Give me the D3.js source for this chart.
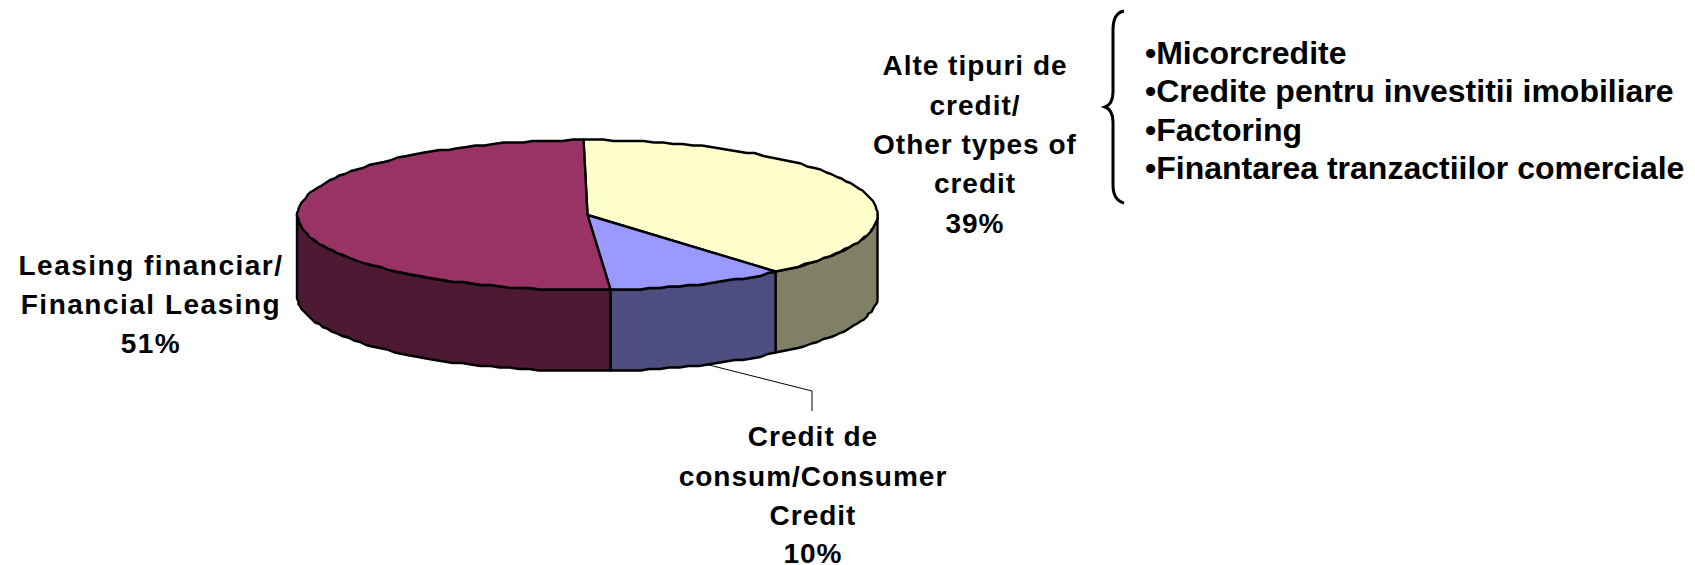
<!DOCTYPE html>
<html>
<head>
<meta charset="utf-8">
<script src="https://cdnjs.cloudflare.com/ajax/libs/d3/7.8.5/d3.min.js"></script>
<style>
    html, body { margin: 0; padding: 0; background: #fff; }
    svg { display: block; }
    text { font-family: "Liberation Sans", Arial, sans-serif; font-weight: bold; fill: #000; }
</style>
</head>
<body>
<div id="chart"></div>
<script>
// Slices, clockwise from the top of the pie
var categories = ["Alte tipuri de credit", "Credit de consum", "Leasing financiar"];
var values = [39, 10, 51];
var topColors = ["#ffffcc", "#9999ff", "#993366"];
var sideColors = ["#808066", "#4d4d80", "#4d1933"];

var labelOther = ["Alte tipuri de", "credit/", "Other types of", "credit", "39%"];
var labelConsumer = ["Credit de", "consum/Consumer", "Credit", "10%"];
var labelLeasing = ["Leasing financiar/", "Financial Leasing", "51%"];
var otherTypes = ["•Micorcredite", "•Credite pentru investitii imobiliare", "•Factoring", "•Finantarea tranzactiilor comerciale"];

var width = 1695, height = 565;
var cx = 587.5, cy = 215, rx = 290, ry = 75, depth = 81;

var svg = d3.select("#chart").append("svg")
    .attr("width", width)
    .attr("height", height);

var pie = d3.pie()
    .sort(null)
    .startAngle(-0.015)
    .endAngle(2 * Math.PI - 0.015);

var arcs = pie(values);

// Angle (0 = top, clockwise) to a point on the flattened circle
function px(a) { return cx + rx * Math.sin(a); }
function py(a) { return cy - ry * Math.cos(a); }

// The outline in the picture is a little rough, so snap the rim to a small grid
function snap(v) { return Math.round(v / 1.5) * 1.5; }
function rimPoints(a0, a1, dy) {
    var n = Math.max(2, Math.round(Math.abs(a1 - a0) / 0.035));
    return d3.range(n + 1).map(function(i) {
        var a = a0 + (a1 - a0) * i / n;
        return [snap(px(a)), snap(py(a)) + dy];
    });
}

var line = d3.line();

// Side walls, only the part facing the viewer
arcs.forEach(function(d, i) {
    var a0 = Math.max(d.startAngle, Math.PI / 2);
    var a1 = Math.min(d.endAngle, 3 * Math.PI / 2);
    if (a1 <= a0) return;
    var pts = rimPoints(a0, a1, 0).concat(rimPoints(a1, a0, depth));
    svg.append("path")
        .attr("d", line(pts) + "Z")
        .attr("fill", sideColors[i])
        .attr("stroke", "#000")
        .attr("stroke-width", 2.4)
        .attr("stroke-linejoin", "round");
});

// Top faces
arcs.forEach(function(d, i) {
    var pts = [[cx, cy]].concat(rimPoints(d.startAngle, d.endAngle, 0));
    svg.append("path")
        .attr("d", line(pts) + "Z")
        .attr("fill", topColors[i])
        .attr("stroke", "#000")
        .attr("stroke-width", 2.4)
        .attr("stroke-linejoin", "round");
});

// Leader line of the consumer credit label
svg.append("path")
    .attr("d", line([[705, 364], [812, 391], [812, 411]]))
    .attr("fill", "none")
    .attr("stroke", "#000")
    .attr("stroke-width", 1);

// Brace
svg.append("path")
    .attr("d", "M 1124 11 Q 1113 13 1113 30 L 1113 92 Q 1113 104 1105 107 Q 1113 110 1113 122 L 1113 185 Q 1113 200 1124 203")
    .attr("fill", "none")
    .attr("stroke", "#000")
    .attr("stroke-width", 3);

function addLabel(lines, x, ys, size, spacing) {
    svg.append("g").selectAll("text")
        .data(lines)
        .join("text")
        .attr("x", x)
        .attr("y", function(d, i) { return ys[i]; })
        .attr("text-anchor", "middle")
        .style("font-size", size + "px")
        .style("letter-spacing", spacing + "px")
        .text(function(d) { return d; });
}

addLabel(labelOther, 975, [75, 115, 154, 193, 233], 28, 1);
addLabel(labelConsumer, 813, [446, 486, 525, 563], 28, 1);
addLabel(labelLeasing, 151, [275, 314, 353], 28, 1.5);

svg.append("g").selectAll("text")
    .data(otherTypes)
    .join("text")
    .attr("x", 1145)
    .attr("y", function(d, i) { return 64 + i * 38.3; })
    .style("font-size", "32px")
    .text(function(d) { return d; });
</script>
</body>
</html>
